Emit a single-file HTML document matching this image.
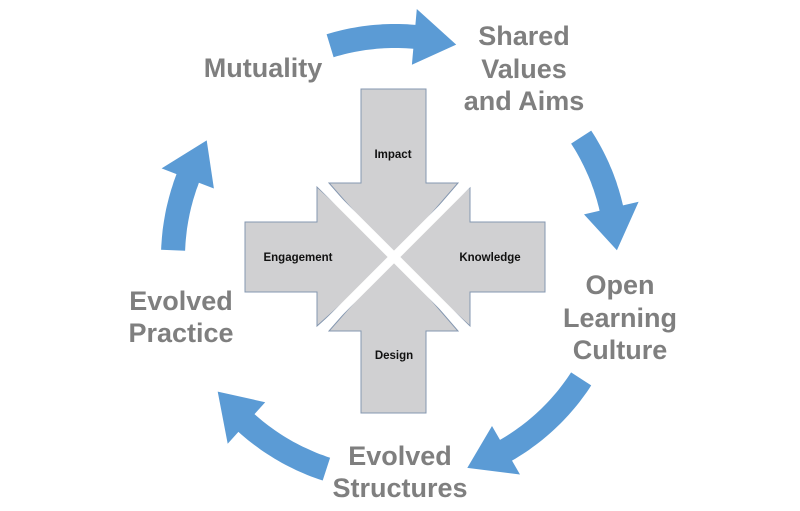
<!DOCTYPE html>
<html><head><meta charset="utf-8"><style>
body{margin:0;background:#fff;}
svg{display:block}
.t{font-family:"Liberation Sans",sans-serif;font-weight:bold;fill:#7f7f7f;font-size:27px;text-anchor:middle}
.s{font-family:"Liberation Sans",sans-serif;font-weight:bold;fill:#111;font-size:11.5px;text-anchor:middle}
</style></head><body>
<svg id="g" width="800" height="511" viewBox="0 0 800 511">
<g fill="#d0d0d2" stroke="#8497b0" stroke-width="1">
<polygon points="361,89 426,89 426,183 458,183 394,257 329,183 361,183"/>
<polygon points="361,413 426,413 426,331 458,331 394,257 329,331 361,331"/>
<polygon points="245,222 317,222 317,187 394,257 317,326 317,292 245,292"/>
<polygon points="545,222 470,222 470,187 394,257 470,326 470,292 545,292"/>
</g>
<g stroke="#fff" stroke-width="9">
<line x1="320" y1="183" x2="468" y2="331"/>
<line x1="468" y1="183" x2="320" y2="331"/>
</g>
<text class="s" x="393" y="158">Impact</text>
<text class="s" x="298" y="261">Engagement</text>
<text class="s" x="490" y="261">Knowledge</text>
<text class="s" x="394" y="359">Design</text>
<g id="arr" fill="#5b9bd5"></g>
<text class="t" x="263" y="77">Mutuality</text>
<text class="t" x="524" y="45">Shared</text>
<text class="t" x="524" y="78">Values</text>
<text class="t" x="524" y="110">and Aims</text>
<text class="t" x="620" y="294">Open</text>
<text class="t" x="620" y="327">Learning</text>
<text class="t" x="620" y="359">Culture</text>
<text class="t" x="400" y="465">Evolved</text>
<text class="t" x="400" y="497">Structures</text>
<text class="t" x="181" y="310">Evolved</text>
<text class="t" x="181" y="342">Practice</text>
</svg>
<script>
var cx=395,cy=258,r=222,w=12,hw=28,hl=11;
function p(a,rr){a=a*Math.PI/180;return (cx+rr*Math.cos(a)).toFixed(1)+","+(cy+rr*Math.sin(a)).toFixed(1);}
var arcs=[[-107,-74],[-33,-2],[33,71],[108,143],[182,212]];
var g=document.getElementById("arr"),h="";
arcs.forEach(function(s){
 var a0=s[0],a1=s[1],b=a1-hl,d="M"+p(a0,r-w)+" ";
 for(var a=a0;a<=b;a+=1)d+="L"+p(a,r-w)+" ";
 d+="L"+p(b,r-w)+" L"+p(b,r-hw)+" L"+p(a1,r)+" L"+p(b,r+hw)+" L"+p(b,r+w)+" ";
 for(var a=b;a>=a0;a-=1)d+="L"+p(a,r+w)+" ";
 d+="L"+p(a0,r+w)+" Z";
 h+='<path d="'+d+'"/>';
});
g.innerHTML=h;
</script>
</body></html>
